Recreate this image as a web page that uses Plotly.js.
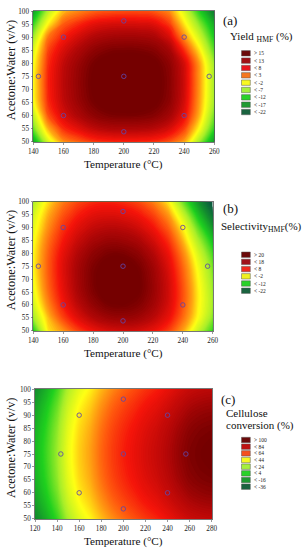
<!DOCTYPE html>
<html><head><meta charset="utf-8">
<script src="https://cdn.plot.ly/plotly-3.0.1.min.js"></script>
<style>html,body{margin:0;padding:0;background:#fff;overflow:hidden}#chart{width:303px;height:550px}</style>
</head><body><div id="chart"></div>
<script>
// ---------- data ----------
const tempAB = [140,150,160,170,180,190,200,210,220,230,240,250,260];
const tempC = [120,130,140,150,160,170,180,190,200,210,220,230,240,250,260,270,280];
const ratio = [50,55,60,65,70,75,80,85,90,95,100];

// Yield HMF (%) surface, rows = ratio, cols = tempAB
const yieldHMF = [
 [-17.0,-6.0,0.4,2.4,4.1,4.8,5.0,4.9,4.5,3.0,-0.3,-9.0,-18.0],
 [-11.0,-1.0,4.5,6.8,8.8,9.8,10.0,9.9,9.3,7.5,3.7,-4.0,-13.5],
 [-7.5,3.0,7.3,10.0,12.4,13.7,14.0,13.9,13.1,10.8,6.4,-1.2,-11.0],
 [-4.5,4.6,8.6,11.5,14.3,16.0,16.5,16.3,15.2,12.5,7.6,-0.3,-9.3],
 [-4.0,5.0,9.0,12.0,15.0,17.0,18.0,17.5,16.0,13.0,8.0,0.0,-9.0],
 [-4.0,5.0,9.0,12.0,15.0,17.0,18.0,17.5,16.0,13.0,8.0,0.0,-9.0],
 [-4.5,4.6,8.6,11.5,14.3,16.0,16.5,16.3,15.2,12.5,7.6,-0.3,-9.5],
 [-6.0,3.6,7.3,10.0,12.4,13.7,14.0,13.9,13.1,10.8,4.5,-3.0,-12.0],
 [-9.0,1.5,5.2,7.7,9.7,10.7,11.0,10.9,10.3,7.5,0.5,-6.5,-14.5],
 [-13.0,-3.5,2.5,4.7,6.5,7.3,7.5,7.4,6.9,4.0,-3.0,-10.0,-17.0],
 [-18.0,-8.0,-1.4,0.6,2.1,2.8,3.0,3.0,2.5,0.5,-6.0,-14.0,-21.0]
];

// Selectivity HMF (%) surface
const selectivityHMF = [
 [-15.0,-4.0,-0.8,3.6,6.7,8.5,9.2,8.8,7.1,3.9,-1.4,-8.0,-14.0],
 [-10.0,-2.6,3.3,8.0,11.5,13.6,14.1,13.4,11.0,7.2,1.2,-5.0,-11.0],
 [-7.6,-0.4,5.8,10.8,14.6,17.1,17.6,16.3,13.2,8.9,2.4,-4.3,-9.8],
 [-6.2,1.1,7.2,12.4,16.4,19.3,19.9,17.9,14.2,9.4,2.7,-4.2,-10.0],
 [-5.3,1.8,7.8,12.9,16.9,20.0,20.5,18.1,14.1,9.2,2.2,-4.7,-10.7],
 [-4.8,2.0,8.0,12.8,16.5,19.0,19.3,17.2,13.4,8.3,1.4,-5.6,-11.7],
 [-4.9,1.7,7.3,11.7,15.0,16.8,16.8,15.1,11.6,6.8,-0.1,-7.1,-13.5],
 [-5.5,0.8,5.9,9.9,12.6,14.0,13.7,12.3,9.1,4.6,-2.2,-9.5,-16.0],
 [-6.5,-0.6,4.3,7.8,10.1,11.0,10.7,9.2,6.3,1.9,-4.6,-12.5,-19.5],
 [-7.6,-2.0,2.4,5.5,7.5,8.1,7.6,6.2,3.4,-0.9,-8.0,-16.0,-23.0],
 [-9.5,-3.8,0.4,3.2,4.8,5.2,4.6,3.1,0.3,-4.0,-12.0,-19.5,-26.5]
];

// Cellulose conversion (%) surface, cols = tempC
const celluloseConv = [
 [-29.0,-17.0,-3.0,15.0,27.0,35.0,45.0,53.0,59.0,64.0,69.0,73.0,78.0,83.0,87.0,89.0,90.0],
 [-23.5,-11.5,2.5,20.5,32.5,40.5,50.5,58.5,64.5,69.5,74.5,78.5,83.5,88.5,92.5,94.5,95.5],
 [-19.2,-7.2,6.8,24.8,36.8,44.8,54.8,62.8,68.8,73.8,78.8,82.8,87.8,92.8,96.8,98.8,99.8],
 [-16.2,-4.2,9.8,27.8,39.8,47.8,57.8,65.8,71.8,76.8,81.8,85.8,90.8,95.8,99.8,101.8,102.8],
 [-14.6,-2.6,11.4,29.4,41.4,49.4,59.4,67.4,73.4,78.4,83.4,87.4,92.4,97.4,101.4,103.4,104.4],
 [-14.0,-2.0,12.0,30.0,42.0,50.0,60.0,68.0,74.0,79.0,84.0,88.0,93.0,98.0,102.0,104.0,105.0],
 [-14.6,-2.6,11.4,29.4,41.4,49.4,59.4,67.4,73.4,78.4,83.4,87.4,92.4,97.4,101.4,103.4,104.4],
 [-16.2,-4.2,9.8,27.8,39.8,47.8,57.8,65.8,71.8,76.8,81.8,85.8,90.8,95.8,99.8,101.8,102.8],
 [-19.0,-7.0,7.0,25.0,37.0,45.0,55.0,63.0,69.0,74.0,79.0,83.0,88.0,93.0,97.0,99.0,100.0],
 [-22.8,-10.8,3.2,21.2,33.2,41.2,51.2,59.2,65.2,70.2,75.2,79.2,84.2,89.2,93.2,95.2,96.2],
 [-27.8,-15.8,-1.8,16.2,28.2,36.2,46.2,54.2,60.2,65.2,70.2,74.2,79.2,84.2,88.2,90.2,91.2]
];

// experimental design points
const designTemp = [200,160,160,240,240,143.4,256.6,200,200];
const designRatio = [75,60,90,60,90,75,75,53.8,96.2];

// colour classes (low -> high) and the value each class colour is pinned to
const rampColors = ['#0d5c3f','#14902e','#1fd01f','#a8ee2a','#ffff14','#ffa012','#ff5a0e','#f5140a','#b30707','#750000'];
const levelsA = [-24,-19,-14,-9,-4,-0.5,2.5,5.5,9.5,14.5];
const levelsB = [-25,-20,-15,-10,-5,-1.5,2,6,11.5,17.5];
const levelsC = [-46,-26,-6,14,34,50,62,76,93,104];

// legend texts and swatch colours
const legendA = ['> 15','< 13','< 8','< 3','< -2','< -7','< -12','< -17','< -22'];
const legendColorsA = ['#6b0a0a','#a10f14','#e8141e','#f5761e','#f8f820','#a6f03c','#28d228','#1e9a32','#1a6440'];
const legendB = ['> 20','< 18','< 8','< -2','< -12','< -22'];
const legendColorsB = ['#6b0a0a','#a0101a','#f0281e','#f0f01e','#28d228','#1a6440'];
const legendC = ['> 100','< 84','< 64','< 44','< 24','< 4','< -16','< -36'];
const legendColorsC = ['#6b0a0a','#c01010','#f5501e','#f8f820','#a6f03c','#28d228','#1e9a32','#1a6440'];

const yTitle = 'Acetone:Water (v/v)';
const xTitle = 'Temperature (°C)';

// ---------- helpers ----------
const W = 303, H = 550;
const px = v => v / W;
const py = v => 1 - v / H;
const SERIF = 'Liberation Serif, Times New Roman, serif';

function scale(levels){
  const lo = levels[0], hi = levels[levels.length-1];
  return levels.map((v,i)=>[(v-lo)/(hi-lo), rampColors[i]]);
}
function surface(x, z, levels, size, xa, ya){
  return {type:'contour', x:x, y:ratio, z:z, xaxis:xa, yaxis:ya,
    colorscale:scale(levels), zauto:false, zmin:levels[0], zmax:levels[levels.length-1],
    autocontour:false,
    contours:{coloring:'fill', start:levels[0], end:levels[levels.length-1], size:size, showlines:false},
    line:{width:0, smoothing:1.3}, showscale:false, hoverinfo:'skip'};
}
function points(xa, ya){
  return {type:'scatter', mode:'markers', x:designTemp, y:designRatio, xaxis:xa, yaxis:ya,
    marker:{symbol:'circle-open', size:4.5, color:'rgba(95,70,170,0.85)', line:{width:1}},
    hoverinfo:'skip', showlegend:false};
}

const data = [
  surface(tempAB, yieldHMF, levelsA, 0.5, 'x', 'y'), points('x','y'),
  surface(tempAB, selectivityHMF, levelsB, 0.5, 'x2', 'y2'), points('x2','y2'),
  surface(tempC, celluloseConv, levelsC, 1, 'x3', 'y3'), points('x3','y3')
];

function xAxis(d, range, anchor){
  return {domain:d, range:range, dtick:20, tick0:0, anchor:anchor, showgrid:false, zeroline:false,
    showline:true, mirror:true, linecolor:'#555', linewidth:0.8,
    ticks:'outside', ticklen:2, tickcolor:'#555', tickwidth:0.6, ticklabelstandoff:1,
    tickfont:{family:SERIF, size:7.2, color:'#222'}};
}
function yAxis(d, anchor){
  return {domain:d, range:[50,100], dtick:5, tick0:0, anchor:anchor, showgrid:false, zeroline:false,
    showline:true, mirror:true, linecolor:'#555', linewidth:0.8,
    ticks:'outside', ticklen:2, tickcolor:'#555', tickwidth:0.6, ticklabelstandoff:0,
    tickfont:{family:SERIF, size:7.2, color:'#222'}};
}

// plot frames in pixels: [left, right, top, bottom]
const frameA = [33.3, 214.3, 11, 141.7];
const frameB = [33.3, 212.7, 201.7, 330.7];
const frameC = [35, 211.7, 389.3, 518.7];
const dom = f => ({x:[px(f[0]), px(f[1])], y:[py(f[3]), py(f[2])]});

const annotations = [];
const shapes = [];
function txt(text, x, y, size, opts){
  annotations.push(Object.assign({text:text, x:px(x), y:py(y), xref:'paper', yref:'paper',
    showarrow:false, font:{family:SERIF, size:size, color:'#111'}, xanchor:'center', yanchor:'middle'}, opts||{}));
}
function legend(labels, colors, top, step){
  labels.forEach((lab,i)=>{
    const c = top + step*i;
    shapes.push({type:'rect', xref:'paper', yref:'paper', x0:px(241.5), x1:px(250.3),
      y0:py(c+2.7), y1:py(c-2.7), fillcolor:colors[i], line:{color:'#555', width:0.5}});
    txt(lab, 252.3, c, 5.5, {xanchor:'left', font:{family:SERIF, size:5.5, color:'#222'}});
  });
}
function panelTitles(f){
  txt(yTitle, 11, (f[2]+f[3])/2 - 6, 12.3, {textangle:-90});
  txt(xTitle, (f[0]+f[1])/2, f[3]+22.8, 11.2);
}

panelTitles(frameA); panelTitles(frameB); panelTitles(frameC);
txt('(a)', 230, 20, 13);
txt('Yield <sub>HMF</sub> (%)', 227.5, 37.5, 11, {xanchor:'left'});
legend(legendA, legendColorsA, 53.3, 7.34);
txt('(b)', 230, 208.5, 13);
txt('Selectivity<sub>HMF</sub>(%)', 219, 227.5, 11, {xanchor:'left'});
legend(legendB, legendColorsB, 254.7, 7.2);
txt('(c)', 228, 399, 13);
txt('Cellulose', 223.5, 413.3, 11, {xanchor:'left'});
txt('conversion (%)', 223.5, 425, 11, {xanchor:'left'});
legend(legendC, legendColorsC, 440, 6.67);

const layout = {
  width:W, height:H, margin:{l:0,r:0,t:0,b:0}, paper_bgcolor:'#fff', plot_bgcolor:'#fff',
  showlegend:false,
  xaxis: xAxis(dom(frameA).x, [140,260], 'y'),  yaxis: yAxis(dom(frameA).y, 'x'),
  xaxis2: xAxis(dom(frameB).x, [140,260], 'y2'), yaxis2: yAxis(dom(frameB).y, 'x2'),
  xaxis3: xAxis(dom(frameC).x, [120,280], 'y3'), yaxis3: yAxis(dom(frameC).y, 'x3'),
  annotations:annotations, shapes:shapes
};
Plotly.newPlot('chart', data, layout, {displayModeBar:false, staticPlot:true});
</script></body></html>
